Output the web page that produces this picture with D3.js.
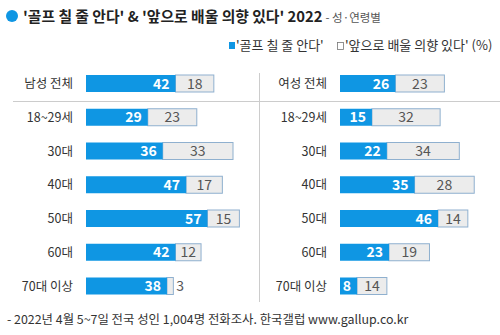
<!DOCTYPE html>
<html><head><meta charset="utf-8">
<script src="https://cdn.jsdelivr.net/npm/d3@7"></script>
<style>body{margin:0;background:#fff}svg{display:block}text{font-family:"Noto Sans CJK KR","Noto Sans",sans-serif}</style>
</head><body>
<script>
const categoriesMen = ["남성 전체","18~29세","30대","40대","50대","60대","70대 이상"];
const categoriesWomen = ["여성 전체","18~29세","30대","40대","50대","60대","70대 이상"];
const menKnow = [42,29,36,47,57,42,38];
const menIntend = [18,23,33,17,15,12,3];
const womenKnow = [26,15,22,35,46,23,8];
const womenIntend = [23,32,34,28,14,19,14];
const seriesNames = ["'골프 칠 줄 안다'","'앞으로 배울 의향 있다' (%)"];

const W=500,H=335;
const blue="#0f96e3", gray="#ececec", border="#8fb0cf";
const svg=d3.select("body").append("svg").attr("width",W).attr("height",H);

// title
svg.append("circle").attr("cx",12).attr("cy",16).attr("r",6).attr("fill",blue);
const t=svg.append("text").attr("x",23).attr("y",21.5).attr("fill","#222");
t.append("tspan").attr("font-size",14.8).attr("font-weight","bold").text("'골프 칠 줄 안다' & '앞으로 배울 의향 있다' 2022");
t.append("tspan").attr("font-size",11.5).attr("fill","#555").attr("dx",3).text("- 성·연령별");

// legend
svg.append("rect").attr("x",229).attr("y",42).attr("width",6).attr("height",7).attr("fill",blue);
svg.append("text").attr("x",236).attr("y",50).attr("font-size",13).attr("fill","#333").text(seriesNames[0]);
svg.append("rect").attr("x",337.5).attr("y",42.5).attr("width",6).attr("height",7).attr("fill","#fff").attr("stroke","#777").attr("stroke-width",0.8);
svg.append("text").attr("x",345).attr("y",50).attr("font-size",13).attr("fill","#333").text(seriesNames[1]);

// separators
svg.append("line").attr("x1",13).attr("x2",W).attr("y1",101.5).attr("y2",101.5).attr("stroke","#ccc");
svg.append("line").attr("x1",259.5).attr("x2",259.5).attr("y1",73).attr("y2",302).attr("stroke","#ccc");

const x=d3.scaleLinear().domain([0,72]).range([0,153.4]);

function panel(cats,know,intend,x0,labelX){
  const y=d3.scalePoint().domain(cats.map((c,i)=>i)).range([83.5,286]);
  const bh=17;
  const g=svg.append("g");
  cats.forEach((c,i)=>{
    const cy=y(i);
    g.append("text").attr("x",labelX).attr("y",cy+4.5).attr("text-anchor","end").attr("font-size",12.5).attr("fill","#333").text(c);
    const kw=x(know[i]), iw=x(intend[i]);
    g.append("rect").attr("x",x0+kw).attr("y",cy-bh/2).attr("width",iw).attr("height",bh).attr("fill",gray).attr("stroke",border).attr("stroke-width",1);
    g.append("rect").attr("x",x0).attr("y",cy-bh/2).attr("width",kw).attr("height",bh).attr("fill",blue);
    g.append("text").attr("x",x0+kw-6).attr("y",cy+5).attr("text-anchor","end").attr("font-size",14).attr("font-weight","bold").attr("fill","#fff").text(know[i]);
    if(iw>16){
      g.append("text").attr("x",x0+kw+iw/2).attr("y",cy+5).attr("text-anchor","middle").attr("font-size",14).attr("fill","#555").text(intend[i]);
    } else {
      g.append("text").attr("x",x0+kw+iw+3).attr("y",cy+5).attr("text-anchor","start").attr("font-size",14).attr("fill","#555").text(intend[i]);
    }
  });
}
panel(categoriesMen,menKnow,menIntend,86,73);
panel(categoriesWomen,womenKnow,womenIntend,340,327);

svg.append("text").attr("x",7).attr("y",324).attr("font-size",12.4).attr("fill","#333").text("- 2022년 4월 5~7일 전국 성인 1,004명 전화조사. 한국갤럽 www.gallup.co.kr");
</script>
</body></html>
